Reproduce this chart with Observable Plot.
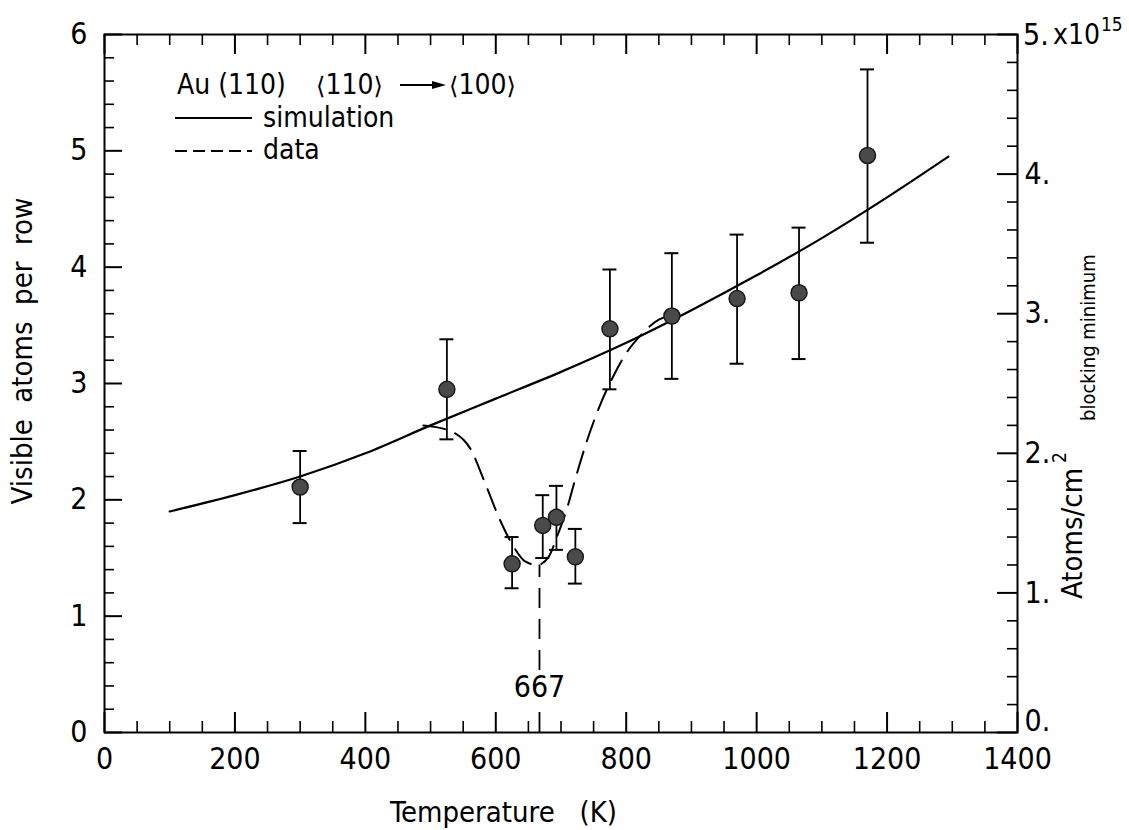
<!DOCTYPE html>
<html><head><meta charset="utf-8">
<script src="https://cdn.jsdelivr.net/npm/d3@7"></script>
<script src="https://cdn.jsdelivr.net/npm/@observablehq/plot@0.6"></script>
<style>
body{margin:0;background:#fff;}
#chart svg text{font-family:"DejaVu Sans Condensed","Liberation Sans Narrow","DejaVu Sans",sans-serif;}
</style></head><body><div id="chart"></div>
<script>
// measured points (Temperature K, visible atoms per row, error bar low/high)
const temps    = [300, 525, 625, 672, 693, 722, 775, 870, 970, 1065, 1170];
const atoms    = [2.11, 2.95, 1.45, 1.78, 1.85, 1.51, 3.47, 3.58, 3.73, 3.78, 4.96];
const errLow   = [1.80, 2.52, 1.24, 1.50, 1.57, 1.28, 2.95, 3.04, 3.17, 3.21, 4.21];
const errHigh  = [2.42, 3.38, 1.68, 2.04, 2.12, 1.75, 3.98, 4.12, 4.28, 4.34, 5.70];
// simulation curve
const simT = [100, 200, 300, 400, 500, 600, 700, 800, 900, 1000, 1100, 1200, 1294];
const simV = [1.90, 2.04, 2.20, 2.40, 2.64, 2.87, 3.10, 3.35, 3.63, 3.93, 4.25, 4.60, 4.95];
// data (dashed) curve
const dataT = [489, 526, 561, 581, 607, 628, 645, 664, 681, 695, 710, 722, 740, 761, 780, 800, 825, 850, 865];
const dataV = [2.64, 2.60, 2.44, 2.18, 1.82, 1.59, 1.47, 1.44, 1.51, 1.70, 1.94, 2.18, 2.51, 2.83, 3.06, 3.26, 3.43, 3.55, 3.58];
// transition marker
const transitionT = [667];
const transitionTop = 1.44;
const transitionLabelY = 0.39;
// tick values
const xMajor = [0, 200, 400, 600, 800, 1000, 1200, 1400];
const xMinor = d3.range(0, 1401, 50).filter(d => d % 200 !== 0);
const yMajor = [0, 1, 2, 3, 4, 5, 6];
const yMinor = d3.range(0, 31).filter(i => i % 5 !== 0).map(i => i / 5);
const rightMajor = [1, 2, 3, 4];             // ×10^15 atoms/cm²
const rightZero = 0;
const rightTop = 5;
const rightScale = 6 / 5;                     // left units per right unit
const rightMinor = d3.range(0, 26).filter(i => i % 5 !== 0).map(i => i / 5);

const W = 1129, H = 830, mL = 104, mR = 112, mT = 34, mB = 98;
const plotW = W - mL - mR, plotH = H - mT - mB;
const FONT = '"DejaVu Sans Condensed","Liberation Sans Narrow","DejaVu Sans",sans-serif';

const points = temps.map((t, i) => ({t, v: atoms[i], lo: errLow[i], hi: errHigh[i]}));
const sim = simT.map((t, i) => ({t, v: simV[i]}));
const dataCurve = dataT.map((t, i) => ({t, v: dataV[i]}));
const rightFmt = d => Math.round(d / rightScale) + ".";

const plot = Plot.plot({
  width: W, height: H,
  marginLeft: mL, marginRight: mR, marginTop: mT, marginBottom: mB,
  x: {domain: [0, 1400]},
  y: {domain: [0, 6]},
  style: {background: "white", color: "black", fontFamily: FONT},
  marks: [
    // inward ticks
    Plot.tickX(xMajor, {x: d => d, insetTop: plotH - 20, strokeWidth: 2}),
    Plot.tickX(xMinor, {x: d => d, insetTop: plotH - 11, strokeWidth: 1.6}),
    Plot.tickX(xMajor, {x: d => d, insetBottom: plotH - 20, strokeWidth: 2}),
    Plot.tickX(xMinor, {x: d => d, insetBottom: plotH - 11, strokeWidth: 1.6}),
    Plot.tickY(yMajor, {y: d => d, insetRight: plotW - 18, strokeWidth: 2}),
    Plot.tickY(yMinor, {y: d => d, insetRight: plotW - 10, strokeWidth: 1.6}),
    Plot.tickY([rightZero, ...rightMajor, rightTop], {y: d => d * rightScale, insetLeft: plotW - 20, strokeWidth: 2}),
    Plot.tickY(rightMinor, {y: d => d * rightScale, insetLeft: plotW - 10, strokeWidth: 1.6}),
    // axis labels
    Plot.axisX(xMajor, {anchor: "bottom", tickSize: 0, tickPadding: 15, fontSize: 30, label: null, tickFormat: d => String(d)}),
    Plot.axisY(yMajor, {anchor: "left", tickSize: 0, tickPadding: 17, fontSize: 30, label: null, tickFormat: d => String(d)}),
    Plot.axisY(rightMajor.map(d => d * rightScale), {anchor: "right", tickSize: 0, tickPadding: 7, fontSize: 30, label: null, tickFormat: rightFmt}),
    Plot.axisY([rightZero * rightScale], {anchor: "right", tickSize: 0, tickPadding: 7, fontSize: 30, label: null, tickFormat: rightFmt, dy: -11}),
    Plot.frame({strokeWidth: 2}),
    // curves
    Plot.line(sim, {x: "t", y: "v", curve: "monotone-x", strokeWidth: 2.2}),
    Plot.line(dataCurve, {x: "t", y: "v", curve: "monotone-x", strokeWidth: 2, strokeDasharray: "22,11"}),
    Plot.ruleX(transitionT, {x: d => d, y1: 0, y2: transitionTop, strokeWidth: 1.8, strokeDasharray: "20,11"}),
    Plot.text(transitionT, {x: d => d, y: transitionLabelY, text: d => String(d), fontSize: 30, fill: "black", stroke: "white", strokeWidth: 10}),
    // error bars
    Plot.ruleX(points, {x: "t", y1: "lo", y2: "hi", strokeWidth: 1.8}),
    Plot.ruleY(points, {y: "hi", x1: "t", x2: "t", insetLeft: -7, insetRight: -7, strokeWidth: 2}),
    Plot.ruleY(points, {y: "lo", x1: "t", x2: "t", insetLeft: -7, insetRight: -7, strokeWidth: 2}),
    Plot.dot(points, {x: "t", y: "v", r: 8, fill: "#4a4a4a", stroke: "#1a1a1a", strokeWidth: 1.5})
  ]
});

document.getElementById("chart").appendChild(plot);
const ys = plot.scale("y");
const svg = d3.select(plot);
const g = svg.append("g").attr("fill", "black").attr("font-family", FONT).attr("text-anchor", "start");

// top-right label 5. x10^15
const yTop = ys.apply(rightTop * rightScale);
g.append("text").attr("x", mL + plotW + 6).attr("y", yTop).attr("dy", "0.35em").attr("font-size", 30).text("5.");
g.append("text").attr("x", mL + plotW + 36).attr("y", yTop).attr("dy", "0.35em").attr("font-size", 28).text("x10");
g.append("text").attr("x", mL + plotW + 84).attr("y", yTop - 10).attr("dy", "0.35em").attr("font-size", 19).text("15");

// axis titles
g.append("text").attr("x", 390).attr("y", 822).attr("font-size", 29)
  .style("white-space", "pre").text("Temperature   (K)");
g.append("text").attr("transform", "translate(32,351) rotate(-90)").attr("text-anchor", "middle")
  .attr("font-size", 29).style("white-space", "pre").text("Visible  atoms  per  row");
g.append("text").attr("transform", "translate(1082,599) rotate(-90)").attr("font-size", 29).text("Atoms/cm");
g.append("text").attr("transform", "translate(1066,463) rotate(-90)").attr("font-size", 19).text("2");
g.append("text").attr("transform", "translate(1095,421) rotate(-90)").attr("font-size", 20).text("blocking minimum");

// legend
const lx = 175, b0 = 94, b1 = 127, b2 = 159;
g.append("text").attr("x", 177).attr("y", b0).attr("font-size", 28).text("Au (110)");
g.append("text").attr("x", 316).attr("y", b0).attr("font-size", 28)
  .html('<tspan font-family="DejaVu Sans" font-size="24">\u27E8</tspan>110<tspan font-family="DejaVu Sans" font-size="24">\u27E9</tspan>');
g.append("line").attr("x1", 400).attr("x2", 434).attr("y1", b0 - 9).attr("y2", b0 - 9).attr("stroke", "black").attr("stroke-width", 1.8);
g.append("path").attr("d", `M446,${b0 - 9}L432,${b0 - 13}L432,${b0 - 5}Z`).attr("fill", "black");
g.append("text").attr("x", 449).attr("y", b0).attr("font-size", 28)
  .html('<tspan font-family="DejaVu Sans" font-size="24">\u27E8</tspan>100<tspan font-family="DejaVu Sans" font-size="24">\u27E9</tspan>');
g.append("line").attr("x1", lx).attr("x2", 252).attr("y1", b1 - 9).attr("y2", b1 - 9).attr("stroke", "black").attr("stroke-width", 2);
g.append("text").attr("x", 263).attr("y", b1).attr("font-size", 28).text("simulation");
g.append("line").attr("x1", lx).attr("x2", 252).attr("y1", b2 - 8).attr("y2", b2 - 8).attr("stroke", "black").attr("stroke-width", 2).attr("stroke-dasharray", "12,6");
g.append("text").attr("x", 263).attr("y", b2).attr("font-size", 28).text("data");
</script></body></html>
